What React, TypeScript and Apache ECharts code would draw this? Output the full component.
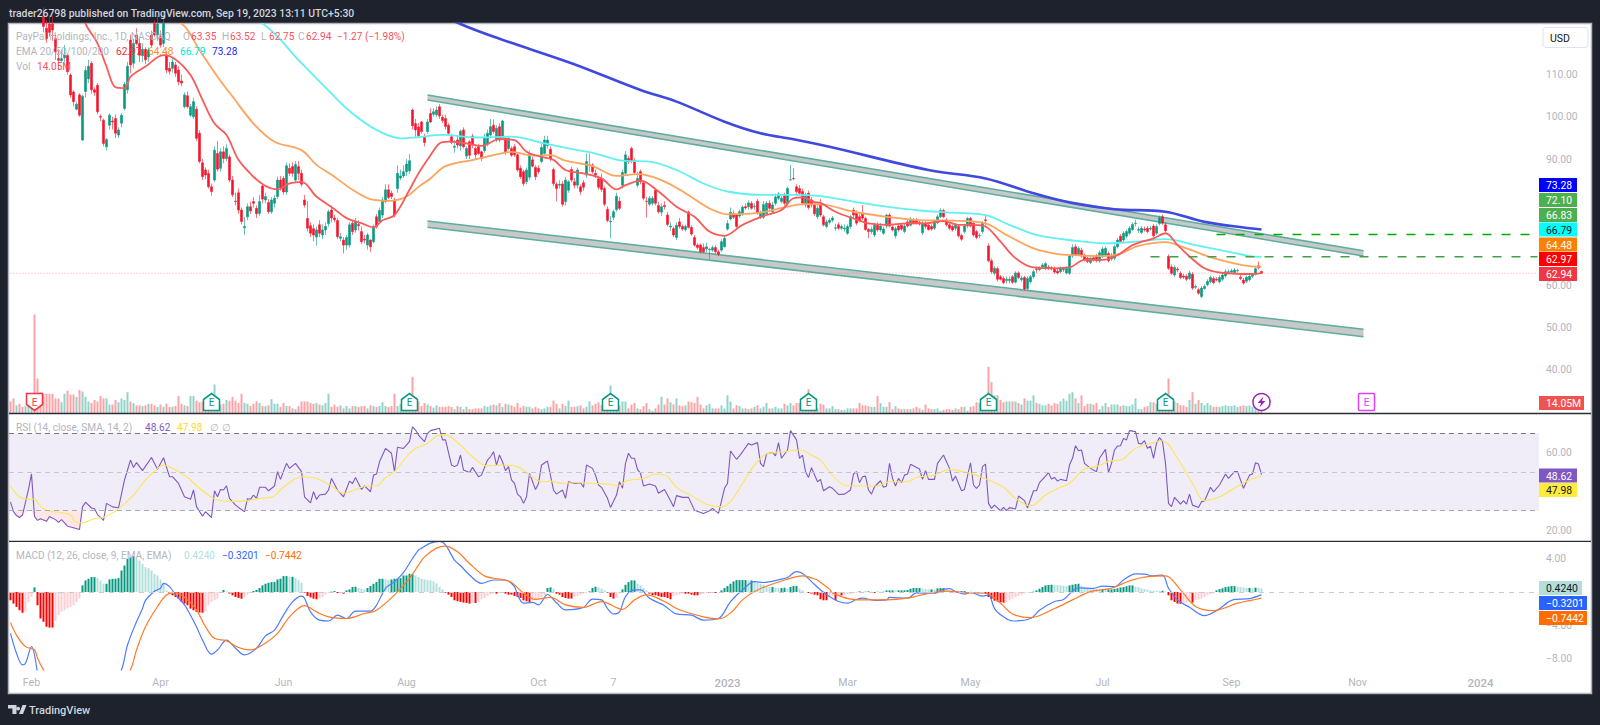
import React, { useEffect, useRef } from "react";
import * as echarts from "echarts";

const candlesA = [
[176,170,168,178],[170,166,164,172],[166,172,165,174],[172,169,167,174],[169,164,162,171],[164,168,163,170],[168,171,166,173],[171,174,170,176],[140,132,129,143],[132,128,125,134],
[128,124,123,130],[124,121.4,120,126],[121,118.5,117.5,123],[122,120,119,124],[122,120.6,118,124],[118.5,115.4,113.5,119.5],[113.8,113.4,111,116],[113.3,113.8,113.1,115.8],[114,114.6,113,117],[114.6,110.7,110,115],
[109.9,105.2,104.5,110.3],[105.9,103.6,102.5,106.3],[101.8,103,101.5,103.6],[105.2,100.4,100,105.6],[94.5,104.9,94.3,105.2],[106,111,104.6,112],[109,112,108,113.5],[112.7,106.4,105.5,113.2],[106.4,105.8,105,107],[107.5,101.2,100.6,108],
[100.1,99.9,99,100.6],[99.2,93.7,93,99.6],[92.9,94.6,92,95],[98,100.4,97,100.8],[99,98.8,97,100],[99.6,96.1,95,100.6],[95.7,96.9,95,97.5],[98.5,100.4,97.5,100.9],[102,107.7,101.5,108.3],[106.4,112,105.5,113],
[118.2,112.3,110.3,119.5],[112.7,117.4,111.5,118.5],[119.4,117.4,117,121],[117.4,114.6,113,118.5],[114.5,116,113,117.4],[116,113.5,112.5,116.5],[114.2,115.8,113,116.5],[119.4,117,116.4,120.4],[122.1,119.4,119,123],[119.4,122,118,124],
[119,117,116.4,120.5],[117.4,122.2,116.5,125],[114.6,111.1,110.3,115.5],[111.5,110.8,110,113],[111.5,113,110.5,114],[112.3,110.3,109.5,113],[111.1,108.3,107.5,112],[108.5,108,107.2,110],[102.4,105.2,102,105.8],[105,102.4,102,106],
[100.4,102.4,100,103],[100,103.6,99.5,104.5],[101.8,94.9,94.3,102.5],[96.1,89.4,89,96.8],[89.1,85.8,85,90],[87.4,86.2,85.2,88],[86.6,83.4,83,87.5],[83.4,82.3,81.3,84.2],[85,92.1,84.5,93],[91.3,87.6,87,94.3],
[87.8,91.7,87,92.5],[91.7,90.1,89,93],[90.1,92.5,89.5,93.5],[90.5,85,84.5,91],[85,81.5,81,86],[80,79.9,79,82],[82,77.9,77,83],[77.9,75.2,74.5,78.5],[73.7,74,72,76.3],[76.3,78.7,75.5,79.5],
[78.7,77.7,77,79.8],[79.9,79.5,78.5,81],[78.3,77,76,79],[77.1,79.9,76.5,81.5],[83.6,80.5,79.5,84],[80.3,81.1,79.5,82],[79.7,77.5,77,80.5],[77.5,80.3,77,81],[79.5,80.7,78.5,81.5],[81.1,85,80.5,85.8],
[85,83.2,82.5,86],[85.4,82.2,81.5,86],[82.2,88.4,81.5,89.2],[87.8,86.6,86,89],[88.2,86.6,85.8,89.2],[85,88.7,84.5,89.5],[88.2,86.6,85,89.5],[86.6,84,83.5,87.5],[80.3,79.1,78.5,81.5],[75.9,73.6,72.8,80],
[74.2,72.4,71.5,75],[73.5,72,70.5,74.5],[71.5,73.2,69.5,74],[74.4,72.4,71.5,75.5],[72,73.2,71,74.5],[73.2,74,72,75],[74.7,77.5,74,78],[77.9,76,75,79],[76,75.6,75,76.8],[75.4,71.6,71,76],
[71.2,71.6,70.5,72.5],[70.8,69.6,67.6,71.5],[69.6,71.4,68.5,72],[69.6,74.4,69,75],[74.8,72.8,72,75.5],[73.2,75.2,72.5,76],[74.5,74.2,73,75.5],[72.8,70.4,69.8,74],[71,70.8,70,72],[69.6,72,68.5,72.5],
[70.8,69.2,68,71],[70.4,74,70,74.5],[76.3,74,73.5,77],[75.2,77.8,74.8,78.5],[76.7,80.3,76,81],[79.9,82.7,79.5,84],[82.7,80.9,80.5,84],[81.9,81.1,80.5,82.5],[80.3,76.7,76.2,80.8],[83,86.6,82,88.5],
[85.5,86,85,87.5],[86,87,85.5,88.5],[87,88.8,86,90],[87.2,89.6,86.5,91.2],
];
const candlesB = [
[101.6,97.9,97,102],[98.4,96.9,95.3,99.5],[97.6,95.5,95,98.5],[98.8,96.5,96,99],[95.3,93.9,93,96],[96.5,98.8,96,99.5],[100.8,98.8,98.5,102],[100.6,101.2,100,102],[100.5,101.6,100,102.5],[102.4,100.2,99.5,103],
[99.9,99.1,98.5,100.5],[99.6,97.7,97,100.5],[98,96.1,95.5,98.5],[95.3,93.9,93.5,96],[92.8,93,91.5,94.5],[94.5,93.3,92.5,95.5],[93.1,96.6,92,97],[96.9,92.9,92.5,97.5],[90.7,92.5,90,93],[94.1,90.9,90,94.5],
[95.4,93.3,92.5,96],[92.5,91,90,93],[92.9,91.3,91,93.5],[91.7,90.1,89.5,92],[92,95.1,91.5,96],[93.5,96.1,93,97],[95.7,97.65,95,99.5],[98,96.5,96,99.4],[94.5,97.3,94,98],[97.65,94.5,94,98.5],
[94.9,99,94.5,99.3],[94.9,91.7,91,95.5],[92.5,94.9,92,95.5],[92.5,90.9,90.5,93],[92.9,91,90.5,93.5],[91,87.4,87,91.5],[87.8,85.8,85.3,88.5],[87,84.2,83.6,87.5],[84.6,87.4,84,88],[85.7,91.3,85,92],
[89.8,88.3,88,90.5],[88,85.8,85,88.5],[87.8,87,86.5,88.5],[89.4,92.7,89,93.5],[91.3,94.5,91,95.5],[93.2,94.5,92.5,95.5],[92.3,90,89.5,93],[87.5,84.2,83.5,88],[84,83,79.9,84.5],[83.8,84,83,85],
[84.1,79.3,78.7,84.8],[79.9,85,79,85.8],[82.6,84.6,82,85],[87.5,85,84.5,88.2],[84.6,83.8,83,85.5],[83.8,87.4,83,88],[83.4,82.3,81.5,84],[84.4,83.3,82.5,85],[86.2,89.4,85.5,91.3],[88.5,88.6,87,91.3],
[88.6,87,86.5,89],[86.6,86.2,85.5,87.5],[85.3,83.3,82.8,86],[85.3,82.8,82.2,86.5],[83,79.3,78.8,83.5],[78.1,75.4,75,78.8],[75.1,75.2,71.2,76.5],[76.2,77.5,75.5,78],[78,81.2,77.5,82],[80,78.3,77.9,81],
[83.8,86.8,83,87.5],[86.6,91,86,91.9],[90.1,89.4,88.8,90.7],[92.5,89.4,89,92.9],[89.6,86.8,86.3,90.2],[83.8,85.4,83.2,87],[87,84.6,84,87.5],[84.4,80.7,80.2,84.8],[80,79.9,76.1,81],[79.3,80.7,78.8,81.2],
[79.5,80.7,79,81.2],[82.6,79.5,79,83],[79,77.5,77,79.8],[77.4,78.7,76.5,79.5],[79,78.7,78,80],[76.7,74.5,74,77.5],[73.9,74.1,73,75],[73.5,72,71.5,74],[71.4,74.3,70.8,75],[75.1,74,73.5,76],
[74,73.4,73,74.5],[73.3,74,72.8,74.5],[77.4,73.8,73.5,77.8],[73.8,72.2,71.8,74.3],[71.4,69.6,69.2,72],[69.6,69,68.6,70],[69.6,68,67.8,70],[69,68,67.8,70],[68.7,69.2,68,70.2],[68.5,68.6,66.2,69],
[68.4,69,68,69.5],[69,68,67.5,69.5],[68,67.4,67,68.5],[68.4,70.4,68,71],[69.2,71.2,69,72],[73.4,74.7,73,75.5],[75.8,77.4,75.4,78.5],[77,76.2,75.8,77.8],[76.7,74,73.5,77],[76.5,77.5,76,78],
[77,78.6,76.5,79],[78.7,78.4,78,79.5],[78.7,79.6,78,80.2],[79.5,78.3,78,80],[78.7,78.8,78,79.5],[80,77.2,76.8,80.5],[76.2,77.1,75.8,77.8],[76.2,79.2,75.8,80],[77,79.5,76.5,80],[79.5,78.3,78,80.2],
[77.5,79.1,77,79.8],[79.5,81,79,81.8],[80.7,81.7,80.3,82.2],[79.9,80.7,79.5,81.3],[81.5,79.5,79,82],[79.5,83,79,83.5],[85,85.1,85,88.6],[85.4,85.3,85,87.8],[83.4,82.3,81.5,84],[83,81.9,81.5,83.8],
[82.3,79.5,79,83],[79.1,81.5,78.5,82],[81.9,78.5,78,82.5],[80.3,79.1,78.5,81],[79.1,77,76.5,79.5],[76.3,78.3,75.8,79],
];
const candlesC = [
[79.1,76.7,76.3,80.5],[76.3,74.4,74,76.8],[74,75.1,73.6,75.6],[75,75.5,74.5,76],[75.5,76,75,76.5],[73.6,73.7,73,74.7],[74.4,73.6,73.2,75],[73.6,74,73.2,74.5],[73.4,73.6,72.8,74.5],[72.4,74,72,74.5],
[74,76.3,73.5,76.8],[77.9,76.7,76,78.5],[77.1,74.8,74.3,77.8],[76.3,75.5,75,77],[77.1,76,75.5,79.1],[75.9,73.3,73,76.3],[73.3,72.8,71.2,73.7],[72.8,73.3,72.2,74],[72,74.3,71.5,74.8],[74.3,73.2,72.8,75],
[73.2,74.1,72.8,74.8],[72.4,73.4,72,74],[74.1,76.7,73.6,77],[76.7,74.1,73.8,77.2],[73.9,73.2,72.8,74.3],[71.8,73.5,71.2,74],[74.1,73.2,72.8,74.8],[74.3,73.4,73,74.8],[72.8,74.1,72.4,74.6],[75.1,74.1,73.8,75.6],
[74.3,75.7,74,76.2],[75.5,74.9,74.5,76],[75.5,74.9,74.5,76],[75,74.6,74.2,75.5],[72.5,74.8,72,75.3],[74.8,74,73.5,75.2],[74.3,73.3,73,74.8],[74,73.4,73,74.5],[73.6,75.2,73.2,75.6],[74.9,76.3,74.5,76.8],
[76.3,77.8,76,78.3],[77.8,76.3,76,78.2],[75.5,74.4,74,76],[74.4,73.6,73.2,74.8],[74,73.2,72.8,74.5],[73.6,74.3,73,74.8],[74,71.8,71.4,74.5],[71.9,71,70.6,72.3],[72.8,74.1,72.3,74.6],[74.1,75.9,73.6,76.3],
[75.9,74.1,73.8,76.3],[74.8,72,71.6,75.2],[72.8,71.4,71,73.2],[71.8,71.9,71.2,72.4],[72.8,74.9,72.3,75.3],[75.6,75.4,74.3,76.5],[69.4,65.9,65.5,70],[65.9,63.3,62.8,66.4],[62.9,64.1,62.4,64.6],[64,61.5,61,64.5],
[62.1,61.5,61.2,62.5],[61.7,60.7,60.3,62.2],[61.2,61.5,60.5,62.2],[61.2,61.5,60.5,62.2],[62.1,60.8,60.4,62.5],[60.8,63,60.5,63.4],[63,61.9,61.5,63.4],[61.4,61.8,60.9,62.3],[61.9,59.2,58.8,62.3],[59.3,61.7,58.8,62.2],
[60.9,62.1,60.5,62.5],[62.1,63.3,61.6,63.8],[64,63.8,63,64.5],[63.8,64.2,63.4,64.6],[64.4,64.9,64,65.3],[64.1,65.2,63.7,65.7],[64.4,64.1,63.7,64.9],[64.2,64,63.6,64.6],[64.1,63.2,62.8,64.5],[63.4,63,62.6,64],
[63.3,64.1,62.9,64.6],[63.7,63.8,63.2,64.4],[63,64.1,62.6,64.6],[62.9,67,62.5,67.5],[67,69,66.6,69.8],[69.2,67.3,67,69.8],[67.3,68.8,67,69.3],[68.4,67,66.6,69],[67.2,66.1,65.7,67.6],[66.5,65.7,65.3,66.9],
[65.5,66.5,65.1,67],[66.6,66.1,65.7,67],[67,65.9,65.5,67.5],[65.8,67.8,65.4,68.3],[66.9,68.7,66.5,69.2],[67.2,68.8,66.8,69.3],[67.6,65.9,65.5,68.1],[66.3,67.2,65.9,67.7],[66.5,69.2,66,69.7],[69.2,70.8,68.8,71.3],
[71.7,70.4,70,72.2],[70.8,72.4,70.3,72.9],[71.7,72.8,71.2,73.3],[72.4,73.6,72,74.1],[73.3,74.5,72.9,75],[74.7,74.8,74,75.6],[73.1,73.3,72.5,74],[72.6,73.6,72.2,74.1],[73.4,73.2,72.8,74],[73.6,72.8,72.4,74.1],
[73.4,73.6,73,74.2],[74.1,71.8,71.4,74.6],[72.4,74,72,74.5],[74.7,76.1,74.3,76.6],[76.3,74.8,74.4,76.8],[74.4,73,72.6,74.9],[66.9,64.1,63.7,67.4],[64.4,62.9,62.5,65],[62.5,64.3,62.1,64.8],[63.9,63.7,63.2,64.4],
[62.9,61.9,61.5,63.4],[62.3,62,61.6,62.8],[62.2,61.5,61.1,62.7],[61.7,63,61.3,63.5],[62.7,59.4,59,63.2],[59.6,59.8,59.2,60.3],[59,58.2,57.8,59.5],[57.4,59.4,57,59.9],[59.3,59.8,59,60.3],[60.2,61,59.8,61.5],
[60.9,61.9,60.5,62.4],[61.7,60.7,60.3,62.2],[61.5,61.3,61,62],[60.9,61.9,60.5,62.4],[61.5,62.5,61.1,63],[62.3,63.3,61.9,63.8],[63.1,63.3,62.7,63.8],[63.2,63.5,62.8,64],[63.1,63.7,62.7,64.2],[63.5,63.6,63.1,64],
[62,61.7,61.3,62.5],[61.3,60.6,60.2,61.8],[61,62,60.6,62.4],[61.4,62.2,61,62.6],[62.2,62.5,61.8,63],[62.7,64,62.4,64.5],[64.7,64.21,63.8,65.7],[63.35,62.94,62.75,63.52],
];

const ema20 = [[0,178],[8,170],[14,148],[20,132],[25,122.1],[29,117.4],[32,111.9],[35,107],[38,106.8],[40,109.5],[45,111.9],[51,114.6],[55,113.6],[60,109.9],[64,104],[68,98.4],[72,95.7],[76,89.8],[81,85.8],[85,83.6],[89,82.8],[93,84.2],[97,84.6],[102,81.1],[108,78.1],[112,76],[117,74.8],[121,73.8],[124,75.5],[128,76.7],[133,82.7],[136,86.6],[140,90.9],[143,93.7],[146,94.1],[152,93.7],[157,93.1],[163,94.7],[168,94.5],[172,91.7],[177,90.5],[181,89.8],[185,87.4],[191,86.6],[197,85.4],[202,82.8],[205,83.8],[210,84.9],[216,82.3],[222,78.7],[228,76.3],[233,72.8],[238,71.8],[244,74.4],[251,76.5],[257,77.9],[261,80.7],[264,80.9],[268,79.8],[270,79.6],[275,77.5],[281,75.9],[286,74.75],[292,74.4],[299,74.75],[305,74.75],[311,75.3],[316,74.4],[321,74.4],[325,74],[330,70.4],[335,66.5],[341,64.3],[348,64.1],[353,64.3],[358,66.1],[364,66.1],[369,67.2],[374,69.6],[381,71.2],[385,72.4],[389,69.6],[393,66.9],[398,64.1],[403,63.1],[413,62.75],[417,62.97]];
const ema50 = [[0,175],[15,158],[25,140],[35,130],[57,122.1],[63,115.8],[69,109.5],[74,104.8],[81,98.4],[88,94.1],[97,92.1],[102,88.6],[108,85.8],[114,82.7],[121,80.3],[127,80.1],[132,81.1],[136,83.4],[140,85.4],[145,88.3],[155,89.9],[161,90.9],[167,91.7],[174,90.8],[180,90.9],[185,89.6],[194,88.3],[202,86],[209,86.4],[217,85],[225,81.9],[233,78.3],[239,76.9],[250,77.3],[259,78.7],[264,79.3],[270,79.25],[281,77.5],[292,76.3],[303,75.5],[314,75.4],[325,74.75],[332,72],[341,68.8],[348,67.6],[354,67.2],[364,67],[370,67.6],[376,69.4],[385,70.3],[392,68.8],[401,66.5],[413,64.6],[417,64.48]];
const ema100 = [[0,178],[20,165],[40,145],[60,130],[84,122.1],[97,112.7],[108,104.8],[114,100.8],[122,96.9],[130,94.9],[135,95.1],[144,95.7],[155,95.1],[167,95.3],[178,93.7],[189,92.1],[195,91.3],[204,89.6],[213,89.4],[222,87.4],[231,84.2],[239,82.3],[250,81.5],[261,81.5],[270,81.2],[281,79.9],[292,78.7],[303,77.8],[314,77.3],[325,76.7],[333,74.4],[342,72],[353,70.8],[365,70],[375,70.4],[385,71],[395,69.6],[413,67],[417,66.79]];
const ema200 = [[0,175],[60,155],[110,135],[150,122],[163,118.5],[187,112.7],[210,106.35],[222,103.6],[238,98.85],[250,96.1],[261,94.7],[273,92.9],[306,87.4],[325,85.4],[341,81.9],[353,79.7],[368,78.1],[385,77.5],[398,75.1],[413,73.6],[417,73.28]];

const volumes = [15,19,10,12,8,9,15,22,128,45,27,25,25,25,25,19,19,14,25,29,24,24,21,30,28,21,15,13,17,15,22,19,19,11,11,17,14,19,17,27,15,13,10,10,9,10,12,12,10,8,11,8,12,8,8,9,22,12,10,9,22,22,16,14,15,14,13,14,37,15,11,12,17,16,21,16,13,25,13,12,9,12,15,13,9,9,10,18,12,12,8,13,9,9,6,5,9,15,15,15,13,12,13,11,10,13,25,8,11,8,10,6,9,6,9,9,8,9,9,6,10,9,8,9,14,9,8,9,25,9,12,12,13,15,47,20,15,9,13,11,9,7,10,8,8,8,9,8,5,9,8,5,8,5,5,6,6,6,9,8,10,11,10,13,8,12,11,10,8,13,7,9,8,8,6,8,6,5,6,8,8,16,12,6,12,9,16,8,8,9,10,6,8,15,10,12,14,10,8,13,36,15,12,10,15,15,6,11,13,6,5,9,13,5,3,6,11,21,11,19,14,11,19,10,9,10,15,14,13,21,11,6,10,12,6,6,6,10,6,23,15,6,10,9,6,6,5,6,8,10,6,8,13,6,6,8,6,6,12,10,13,10,13,13,12,14,31,10,10,6,12,11,6,6,9,5,5,4,4,6,6,6,6,13,10,10,9,8,8,22,13,8,8,14,5,9,6,5,5,5,5,6,8,6,4,11,6,5,5,6,3,4,5,5,4,6,5,8,8,3,8,9,14,13,13,14,60,40,23,23,17,14,15,15,15,15,13,11,19,16,16,23,13,12,10,10,12,10,13,12,15,19,16,25,27,19,13,23,9,12,12,11,13,5,9,13,8,11,11,11,9,10,9,9,11,19,5,5,8,9,14,14,12,14,14,14,45,21,15,13,10,10,8,17,27,12,17,13,10,13,10,8,8,8,9,10,9,9,10,8,9,10,9,10,8,11,10,14.05];

const rsi = [[0,34.6],[1,29.5],[2,27.5],[3,26.5],[4,27.8],[6,41],[7,49],[8,27],[9,25],[10,25.9],[12,24.5],[13,27],[15,25.4],[16,24],[17,25.4],[19,22],[21,21.2],[23,20.3],[24,32],[25,34.4],[27,31.4],[28,31],[29,28],[31,25],[32,33.8],[34,32],[36,31.5],[38,45.9],[40,56.2],[41,52.3],[42,54.9],[43,52.8],[44,50.7],[47,57.5],[49,51.4],[51,57.4],[53,47.6],[54,47.6],[56,44.1],[58,37.2],[60,35.9],[61,40.7],[62,32.1],[64,27.2],[65,29.5],[67,26.5],[68,40.3],[69,37.2],[70,41],[71,40.7],[72,42.9],[73,36.4],[75,32.9],[76,31.7],[78,29.5],[79,36.2],[80,35.9],[81,38.1],[82,36.4],[83,42.1],[85,42.1],[86,40.3],[88,42.8],[89,50.2],[90,46.2],[92,54.5],[93,51.9],[95,54.5],[97,50.2],[98,37.2],[100,34.1],[101,39.8],[102,35.9],[103,38.1],[105,38.6],[106,40.7],[107,46.7],[109,40.7],[111,37.2],[113,45.3],[114,44.1],[115,47.2],[117,41],[118,42.8],[120,39.8],[121,48.4],[122,49],[123,55.3],[125,62.2],[127,59.7],[128,50.2],[129,62.8],[131,62.2],[133,65.7],[134,73.4],[135,71.7],[136,69.1],[138,65.7],[139,70],[140,71.4],[143,72.6],[144,66.6],[145,66.6],[147,53.6],[148,52.8],[149,53.6],[150,58.8],[151,51],[153,49.7],[154,52.4],[156,47.6],[157,48.4],[159,56.2],[160,57.9],[161,60.5],[162,53.6],[163,58.8],[164,55.3],[165,50.7],[166,52.8],[167,45.9],[168,44.1],[169,38.6],[170,37.2],[171,33.8],[172,37.2],[173,49.3],[175,41],[176,44.1],[177,53.6],[179,55.7],[181,40.7],[182,38.6],[184,40.7],[185,36.4],[186,45],[188,44.1],[190,44.5],[191,42.1],[192,53.6],[194,51.9],[195,48.4],[196,43.3],[197,42.1],[199,36.4],[200,31.7],[202,38.1],[203,45],[204,41.6],[205,54.5],[206,59.7],[207,57.1],[208,57.1],[209,51.4],[210,49.3],[211,42.8],[213,43.8],[215,42.8],[216,39],[218,41],[220,35.2],[221,32.1],[222,37.8],[224,36.9],[226,36.9],[228,30.3],[231,28.6],[233,30],[234,31.2],[236,28.6],[238,41.6],[239,44.1],[240,60.9],[242,56.6],[243,58.3],[246,64.8],[247,64],[249,65.2],[250,54.5],[251,52.8],[252,59.3],[254,60.2],[255,58.3],[256,65.2],[257,57.1],[259,61.4],[260,71.4],[262,66.6],[263,57.1],[264,58.8],[265,50.2],[266,47.2],[267,52.2],[269,45],[270,46.2],[271,40.3],[273,42.4],[274,41.6],[276,38.4],[278,38.6],[280,40.7],[281,49],[282,50.2],[283,44.5],[284,47.6],[285,47.9],[286,40.7],[287,38.6],[288,42.4],[290,45.5],[291,42.1],[292,42.8],[293,54.5],[294,46.7],[295,42.8],[296,46.7],[297,44.5],[298,48.4],[299,49],[300,54],[303,51.6],[304,46.2],[305,50.7],[306,46.2],[308,46.2],[309,54.5],[311,58.8],[313,51.9],[314,45.3],[315,47.9],[317,40.3],[318,41],[320,54.8],[321,43.3],[322,41.6],[323,43.3],[324,52.8],[325,54.1],[326,33.8],[327,31.2],[328,32.9],[330,30],[331,31.7],[332,30],[333,31.6],[335,30.9],[336,37.6],[338,35.2],[339,31.4],[341,40.3],[342,40.3],[343,44.5],[345,47.9],[346,49.7],[347,46.4],[348,47.2],[349,45.3],[350,46.2],[352,45.5],[353,53.6],[354,57.1],[355,63.6],[356,61],[357,61.4],[358,54.5],[360,51.9],[362,50.2],[363,57.1],[365,61.7],[366,49.7],[367,54.5],[368,61.4],[369,63.4],[370,63.6],[371,67.4],[372,66.6],[373,71.4],[375,70.9],[376,64.8],[377,64.5],[378,66.2],[379,62.2],[380,63.4],[381,57.1],[382,64.8],[383,67.8],[384,65.7],[385,54.5],[386,33.8],[387,32.1],[388,36.9],[390,33.4],[391,35.2],[392,33.4],[393,38.6],[394,32.9],[396,31.7],[397,34.7],[398,35],[400,42.1],[401,39.8],[403,43.3],[405,49],[406,46.7],[408,50.2],[409,50.2],[411,41.6],[413,48.4],[414,49],[415,54.8],[416,54.1],[417,48.62]];
const rsiSma = [[0,42.8],[3,37.2],[6,35.9],[8,35.9],[10,32.1],[13,29.8],[17,29.1],[20,27.8],[22,23.8],[24,23.8],[28,26],[31,26.6],[35,29.8],[41,38.1],[45,45.9],[49,51.9],[51,53.6],[54,51.9],[59,47.2],[63,41.6],[67,36.9],[69,35.5],[74,34.7],[79,35.2],[83,36.4],[87,36.9],[91,42.1],[97,47.6],[102,46.7],[107,42.8],[111,39],[114,40.3],[119,42.8],[122,42.8],[125,47.2],[128,50.2],[132,57.9],[135,62.2],[139,64.8],[143,69.1],[145,69.1],[150,64],[154,57.9],[159,53.1],[164,53.6],[169,52.8],[173,48.4],[177,45],[180,45.3],[184,44.1],[189,44.6],[194,44.1],[199,43.8],[203,42.8],[205,45.3],[211,46.7],[215,49],[219,47.6],[222,42.1],[228,36.9],[232,33.4],[237,32.1],[240,34.7],[244,44.1],[248,53.6],[252,59.3],[258,60.5],[263,61.4],[268,57.9],[270,56.2],[273,50.2],[278,43.3],[284,42.8],[289,42.8],[293,45],[299,45],[302,47.2],[308,48.4],[313,51.4],[319,49.7],[324,47.2],[331,42.1],[335,36.4],[340,32.4],[345,38.1],[350,42.1],[353,44.1],[358,51.6],[362,52.8],[367,55.9],[370,56.2],[375,62.2],[381,65.2],[384,66.2],[389,57.1],[394,44.1],[398,35.2],[403,37.2],[408,41.6],[413,45.9],[417,47.98]];

const macdLine = [[0,-5],[2,-7.4],[4,-8.8],[5,-8.6],[7,-6.6],[9,-9.8],[10,-13],[15,-15.5],[22,-16.5],[28,-15],[33,-12],[37,-9.4],[39,-6.4],[42,-3.6],[44,-2],[45,-1],[48,0.1],[50,0.45],[51,1.05],[53,0.65],[55,-0.35],[58,-1.55],[60,-2.8],[62,-4.2],[64,-5.8],[67,-7.5],[69,-7],[72,-5.8],[75,-6.8],[78,-7.6],[82,-6.8],[85,-5.3],[88,-4.6],[91,-2.8],[94,-1.2],[97,-0.5],[98,-0.75],[100,-2.4],[103,-3.4],[106,-3.5],[109,-2.8],[112,-3.2],[115,-2.3],[120,-2.3],[122,-1.6],[125,0.45],[128,1.25],[131,2.35],[134,4.05],[136,5.05],[137,5.3],[140,5.9],[143,6.1],[145,5.7],[148,3.85],[150,3.2],[153,2.05],[157,1.05],[161,1.45],[165,1.45],[168,0.65],[169,-0.35],[171,-1.35],[174,-1.25],[176,-1.55],[179,-0.3],[182,-1.3],[185,-2.15],[191,-1.85],[194,-0.85],[197,-0.95],[199,-2],[201,-2.65],[203,-2.4],[205,-0.55],[208,0.25],[210,0.25],[213,-0.75],[218,-1.65],[222,-2.65],[227,-2.8],[231,-3.4],[236,-3.2],[240,-1.15],[244,0.25],[248,1.25],[251,1.15],[257,1.55],[259,1.75],[262,2.45],[264,2.25],[267,1.25],[270,0.25],[273,-0.55],[276,-1.15],[279,-1.35],[282,-0.9],[284,-0.75],[288,-1],[292,-0.95],[293,-0.65],[299,-0.75],[302,-0.1],[308,-0.15],[311,0.35],[313,0.4],[315,0.05],[318,-0.25],[320,-0.05],[324,-0.5],[326,-0.35],[328,-2],[331,-3],[334,-3.5],[340,-3.2],[343,-2.2],[348,-1.15],[351,-0.9],[356,0.5],[361,0.45],[364,0.7],[368,0.65],[371,1.45],[375,2.2],[378,2.15],[381,1.95],[384,2.05],[386,0.45],[389,-0.95],[393,-1.85],[398,-2.85],[402,-2.25],[408,-0.9],[413,-0.8],[417,-0.3201]];
const macdSignal = [[0,-3.7],[2,-5.2],[5,-6.6],[8,-7],[9,-8],[11,-9.4],[15,-11.5],[22,-13],[30,-13.5],[36,-11.5],[40,-9.4],[42,-7],[45,-4.2],[49,-1.75],[52,-0.35],[55,-0.1],[59,-0.95],[62,-2.15],[65,-4.2],[68,-5.6],[72,-5.9],[76,-6.7],[80,-7],[84,-6.4],[89,-5],[93,-3],[98,-1.65],[102,-2.4],[106,-3],[112,-3.2],[118,-2.6],[122,-2.2],[128,-0.35],[133,1.65],[136,3.25],[138,4.25],[142,5.3],[145,5.55],[149,4.85],[153,3.45],[158,1.95],[163,1.55],[167,1.15],[171,-0.15],[175,-0.9],[180,-0.65],[185,-1.55],[191,-1.85],[197,-1.15],[204,-2.1],[208,-0.95],[212,-0.35],[218,-1.15],[223,-2.15],[231,-3],[236,-3.25],[240,-2.55],[244,-0.95],[249,0.25],[259,1.55],[264,1.95],[269,1.45],[270,1.15],[273,0.35],[274,-0.1],[280,-0.85],[285,-0.95],[292,-0.95],[299,-0.75],[305,-0.25],[312,0.1],[319,-0.1],[325,-0.15],[330,-1.35],[334,-2.65],[340,-3.1],[348,-2],[354,-0.95],[360,0.05],[367,0.45],[373,1.35],[379,1.85],[385,1.95],[390,0.25],[395,-1.75],[401,-2.25],[409,-1.35],[413,-1.05],[417,-0.7442]];
const macdHist = [-1,-1.4,-1.8,-2.2,-2.5,-2.4,-1.2,-0.6,0.56,-1.6,-3.2,-3.6,-4.2,-4.3,-4.3,-3.5,-2.8,-2.4,-2.2,-2,-1.8,-1.6,-1.2,-0.8,0.8,1.4,1.6,1.8,1.8,1.68,1.4,1,1,1.52,1.6,1.6,1.68,2.6,3.2,4,4.2,4.32,4,3.8,3.4,3,2.88,2.6,2.2,2,1.52,1,0.2,-0.2,-0.4,-0.6,-0.8,-1.2,-1.4,-1.6,-2,-2.2,-2.4,-2.48,-2.5,-2.4,-1.6,-1.2,-1,-0.8,-0.12,0.24,0.08,-0.2,-0.4,-0.6,-0.72,-0.8,-0.6,-0.32,-0.12,0.12,0.24,0.48,0.8,1,1.12,1.2,1.2,1.52,1.6,1.92,1.92,1.84,1.84,1.68,1.44,1.12,-0.08,-0.48,-0.64,-0.8,-0.88,-0.72,-0.6,-0.32,-0.08,0.04,0.12,-0.12,-0.12,-0.2,0.2,0.32,0.6,0.64,0.48,0.4,0.32,0.48,0.72,1,1.2,1.6,1.6,1.52,1.44,1.52,1.6,1.6,1.68,2,2,2.2,2.2,2,1.8,1.6,1.52,1.44,1.4,1.28,1.04,0.6,0.32,-0.08,-0.32,-0.6,-1,-1.12,-1.2,-1.28,-1.32,-1.4,-1.32,-1.32,-1.2,-0.88,-0.72,-0.48,-0.32,-0.2,-0.2,-0.08,-0.08,-0.2,-0.32,-0.32,-0.48,-0.6,-0.72,-1,-1.12,-1.2,-1,-0.88,-0.8,-0.6,-0.4,0.48,0.56,0.4,-0.2,-0.32,-0.6,-0.72,-0.8,-0.8,-0.6,-0.48,-0.32,-0.2,-0.12,0.08,0.48,0.64,0.56,0.4,0.2,-0.08,-0.6,-0.8,-0.72,-0.2,0.32,0.88,1.2,1.4,1.4,1,0.8,0.48,0.2,-0.2,-0.4,-0.4,-0.48,-0.6,-0.6,-0.72,-0.88,-0.48,-0.4,-0.32,-0.2,-0.2,-0.2,-0.32,-0.4,-0.4,-0.32,-0.2,-0.12,-0.12,-0.12,-0.12,-0.04,0.2,0.48,0.72,1,1.28,1.44,1.44,1.44,1.44,1.4,1.4,1.2,1.12,1,0.88,0.72,0.6,0.6,0.52,0.48,0.48,0.52,0.4,0.6,0.72,0.72,0.4,0.2,0,-0.12,-0.2,-0.32,-0.4,-0.88,-1,-1,-0.5,-0.4,-1,-0.4,-0.4,-0.32,-0.28,-0.2,-0.16,-0.12,0.08,-0.04,0.04,0.08,0.04,-0.12,0.04,0.02,0.04,0.2,0.2,0.2,0.16,0.2,0.2,0.2,0.24,0.4,0.48,0.48,0.48,0.44,0.36,0.32,0.32,0.28,0.44,0.48,0.48,0.32,0.2,0.1,0.04,0.04,0.12,0.12,-0.04,-0.08,-0.12,-0.1,-0.12,-0.12,-0.2,-0.6,-0.85,-1.05,-1.15,-1.25,-1.28,-1.2,-1,-0.8,-0.6,-0.48,-0.32,-0.15,-0.08,-0.12,0.04,0.2,0.4,0.6,0.8,0.85,0.88,0.86,0.82,0.8,0.76,0.72,0.8,0.88,0.95,1,0.76,0.6,0.5,0.45,0.4,0.36,0.32,0.32,0.3,0.32,0.32,0.38,0.45,0.55,0.6,0.7,0.8,0.8,0.65,0.6,0.45,0.35,0.28,0.2,0.16,0.14,0.12,0.15,0.05,-0.4,-1,-1.2,-1.4,-1.42,-1.4,-1.3,-1.2,-1.28,-1,-0.9,-0.8,-0.6,-0.4,-0.25,-0.1,0.2,0.35,0.45,0.6,0.65,0.72,0.72,0.65,0.6,0.55,0.5,0.5,0.46,0.52,0.5,0.424];

const priceTicks = [50,60,90,100,110];
const rsiTicks = [20,60];
const macdTicks = [-8,-4,4];
const timeTicks: [number,string][] = [[7,"Feb"],[50,"Apr"],[91,"Jun"],[132,"Aug"],[176,"Oct"],[201,"7"],[239,"2023"],[279,"Mar"],[320,"May"],[364,"Jul"],[407,"Sep"],[449,"Nov"],[490,"2024"]];
const extraPriceTicks = [40];
const earningsGreen = [67,133,200,266,326,385];
const earningsRed = [8];
const earningsFuture = [452];
const dividendIdx = [417];
const upperChannel = [139,105.17,103.98,451,68.27,67.0];
const lowerChannel = [139,75.31,73.81,451,49.64,47.89];
const levelUpper = [[402,72.1],[509,72.1]];
const levelLower = [[380,66.83],[509,66.83]];
const lastClose = 62.94;
const AXIS_COUNT = 510;

const priceTags = [["73.28",178,192,"#0000ff","#fff"],["72.10",193,207,"#4caf50","#fff"],["66.83",208,222,"#4caf50","#fff"],["66.79",222.5,236.5,"#00ffff","#131722"],["64.48",237.5,251.5,"#ff7f00","#fff"],["62.97",252,266,"#ff0000","#fff"],["62.94",267,281,"#f23645","#fff"]];
const rsiTags = [["48.62",468.5,482.5,"#7e57c2","#fff"],["47.98",483,497,"#ffeb3b","#131722"]];
const FONT = "Roboto, 'Liberation Sans', sans-serif";
const GREEN = "#089981", RED = "#f7152e";
const LEGEND_SIZE = 10.1;

const categories = Array.from({ length: AXIS_COUNT }, (_, i) => {
  const t = timeTicks.find((x) => x[0] === i);
  return t ? t[1] : "";
});

const UP_PATH = "path://M0 6L8 0L16 6L16 17L0 17Z";
const DOWN_PATH = "path://M0 0L16 0L16 11L8 17L0 11Z";
const SQ_PATH = "path://M1 0L15 0Q16 0 16 1L16 16Q16 17 15 17L1 17Q0 17 0 16L0 1Q0 0 1 0Z";
const BOLT_PATH = "path://M6 0L0 7L3.5 7L2 12L8 5L4.5 5Z";
const VOL_MARK = 14.3;

echarts.graphic.registerShape(
  "tvlogo",
  echarts.graphic.extendPath("M0 0H8.5V9H4.4V3.6H0ZM10.2 1.8a1.8 1.8 0 1 0 0.01 0ZM14.5 0H18.5L15 9H11Z", {}) as any
);

function txt(x: number, y: number, text: string, fill: string, size = LEGEND_SIZE, weight = "normal") {
  return { type: "text", x, y, z: 60, silent: true, style: { text, fill, font: `${weight} ${size}px ${FONT}`, verticalAlign: "middle" } };
}
function tag(t: any[], right = 1577, size = 10.4) {
  return [
    { type: "rect", z: 55, silent: true, shape: { x: 1539, y: t[1], width: right - 1539, height: t[2] - t[1] }, style: { fill: t[3] } },
    txt(1546, (t[1] + t[2]) / 2 + 0.5, t[0], t[4], size),
  ];
}
function channelRender(_p: any, api: any) {
  const a0 = api.coord([api.value(0), api.value(1)]);
  const b0 = api.coord([api.value(0), api.value(2)]);
  const a1 = api.coord([api.value(3), api.value(4)]);
  const b1 = api.coord([api.value(3), api.value(5)]);
  const edge = { stroke: "#5cae9d", lineWidth: 1.6 };
  return {
    type: "group",
    children: [
      { type: "polygon", shape: { points: [a0, a1, b1, b0] }, style: { fill: "#c6c8ca" } },
      { type: "line", shape: { x1: a0[0], y1: a0[1], x2: a1[0], y2: a1[1] }, style: edge },
      { type: "line", shape: { x1: b0[0], y1: b0[1], x2: b1[0], y2: b1[1] }, style: edge },
    ],
  };
}

export default function App() {
  const ref = useRef<HTMLDivElement>(null);
  useEffect(() => {
    document.body.style.margin = "0";
    const chart = echarts.init(ref.current!, null, { renderer: "svg" });
    const candles = [...candlesA, ...candlesB, ...candlesC];
    const hideX = (i: number) => ({ type: "category", gridIndex: i, data: categories, show: false });
    const line = (name: string, data: any, color: string, width: number, x: number, smooth: any = 0.35, extra: any = {}) => ({
      name, type: "line", data, xAxisIndex: x, yAxisIndex: x, showSymbol: false, symbol: "none", smooth, silent: true,
      lineStyle: { color, width }, ...extra,
    });
    const marker = (data: number[], symbol: string, color: string, label: string) => ({
      type: "scatter", xAxisIndex: 1, yAxisIndex: 1, silent: true, z: 6, symbol, symbolSize: [16, 17],
      data: data.map((i) => [i, VOL_MARK]),
      itemStyle: { color: "#ffffff", borderColor: color, borderWidth: 1.6, opacity: 1 },
      label: { show: true, position: "inside", formatter: label, color, fontSize: 10, fontFamily: FONT },
    });
    const graphic: any[] = [
      { type: "rect", z: 0, silent: true, shape: { x: 8.5, y: 23.5, width: 1583, height: 670 }, style: { fill: "#ffffff", stroke: "#b2b5be", lineWidth: 1.5 } },
      { type: "line", z: 58, silent: true, shape: { x1: 9, y1: 413.5, x2: 1591, y2: 413.5 }, style: { stroke: "#2a2e39", lineWidth: 1.3 } },
      { type: "line", z: 58, silent: true, shape: { x1: 9, y1: 541.3, x2: 1591, y2: 541.3 }, style: { stroke: "#2a2e39", lineWidth: 1.3 } },
      txt(9, 13, "trader26798 published on TradingView.com, Sep 19, 2023 13:11 UTC+5:30", "#d1d4dc", 10.4, "500"),
      { type: "tvlogo", x: 8, y: 705, z: 60, silent: true, style: { fill: "#d1d4dc" } },
      txt(29, 710, "TradingView", "#d1d4dc", 11, "500"),
      { type: "rect", z: 55, silent: true, shape: { x: 1543, y: 27.5, width: 45, height: 20, r: 3 }, style: { fill: "#fff", stroke: "#e0e3eb", lineWidth: 1 } },
      txt(1550, 38, "USD", "#131722", 10.5),
      txt(16, 36, "PayPal Holdings, Inc., 1D, NASDAQ", "#b2b5be"),
      ...[["O","63.35",183],["H","63.52",222],["L","62.75",261],["C","62.94",298]].flatMap((p: any) => {
        return [txt(p[2], 36, p[0], "#b2b5be"), txt(p[2] + 8, 36, p[1], "#f7525f")];
      }),
      txt(337, 36, "−1.27 (−1.98%)", "#f7525f"),
      txt(16, 51, "EMA 20/50/100/200", "#b2b5be"),
      txt(116, 51, "62.97", "#ff2b2b"),
      txt(148, 51, "64.48", "#ff8c1a"),
      txt(180, 51, "66.79", "#00e5e5"),
      txt(212, 51, "73.28", "#2020ff"),
      txt(16, 66, "Vol", "#b2b5be"),
      txt(37, 66, "14.05M", "#f7525f"),
      txt(16, 427, "RSI (14, close, SMA, 14, 2)", "#b2b5be"),
      txt(145, 427, "48.62", "#7e57c2"),
      txt(177, 427, "47.98", "#fdd835"),
      txt(210, 427, "∅", "#b2b5be"),
      txt(222, 427, "∅", "#b2b5be"),
      txt(16, 555, "MACD (12, 26, close, 9, EMA, EMA)", "#b2b5be"),
      txt(184, 555, "0.4240", "#b2dfdb"),
      txt(222, 555, "−0.3201", "#2962ff"),
      txt(265, 555, "−0.7442", "#ff6d00"),
      ...priceTags.flatMap((t) => tag(t)),
      ...rsiTags.flatMap((t) => tag(t)),
      ...tag(["14.05M", 396, 410, "#ef5350", "#fff"], 1584),
      ...tag(["0.4240", 581, 595, "#b2dfdb", "#131722"], 1582),
      ...tag(["−0.3201", 596, 610, "#2962ff", "#fff"], 1587),
      ...tag(["−0.7442", 611, 625, "#ff6d00", "#fff"], 1587),
    ];
    const axisLabel = (ticks: number[]) => ({
      show: true, color: "#b2b5be", fontSize: 10.3, fontFamily: FONT, margin: 7,
      customValues: ticks, formatter: (v: number) => v.toFixed(2).replace("-", "−"),
    });
    const yBase = { type: "value", position: "right", scale: true, splitLine: { show: false }, axisLine: { show: false }, axisTick: { show: false } };
    chart.setOption({
      animation: false,
      backgroundColor: "#1e222d",
      graphic,
      grid: [
        { left: 9, top: 24, width: 1530, height: 389 },
        { left: 9, top: 313, width: 1530, height: 100 },
        { left: 9, top: 414, width: 1530, height: 127 },
        { left: 9, top: 542, width: 1530, height: 128 },
      ],
      xAxis: [hideX(0), hideX(1), hideX(2), {
        type: "category", gridIndex: 3, data: categories,
        axisLine: { show: false }, axisTick: { show: false }, splitLine: { show: false },
        axisLabel: {
          show: true, interval: (_i: number, v: string) => v !== "", color: "#b2b5be", fontSize: 10.6, fontFamily: FONT, margin: 7,
          formatter: (v: string) => (/^\d{4}$/.test(v) ? `{y|${v}}` : v),
          rich: { y: { fontSize: 11.5, fontFamily: FONT, fontWeight: 500, color: "#b2b5be" } },
        },
      }],
      yAxis: [
        { ...yBase, gridIndex: 0, min: 29.8, max: 122, axisLabel: axisLabel([...extraPriceTicks, ...priceTicks]) },
        { type: "value", gridIndex: 1, min: 0, max: 130, show: false, splitLine: { show: false } },
        { ...yBase, gridIndex: 2, min: 14.35, max: 80, axisLabel: axisLabel(rsiTicks) },
        { ...yBase, gridIndex: 3, min: -9.42, max: 6.04, axisLabel: axisLabel(macdTicks) },
      ],
      series: [
        { type: "custom", xAxisIndex: 0, yAxisIndex: 0, silent: true, renderItem: channelRender, data: [upperChannel, lowerChannel], encode: { x: [0, 3], y: [1, 2, 4, 5] } },
        line("last", [[0, lastClose], [509, lastClose]], "rgba(247,82,95,0.55)", 1, 0, false, { lineStyle: { color: "rgba(247,82,95,0.55)", width: 1, type: [1, 2] } }),
        { name: "price", type: "candlestick", xAxisIndex: 0, yAxisIndex: 0, data: candles, barWidth: 2, silent: true,
          itemStyle: { color: GREEN, color0: RED, borderColor: GREEN, borderColor0: RED, borderWidth: 0.6 } },
        line("EMA 100", ema100, "#62f0f0", 1.8, 0),
        line("EMA 50", ema50, "#ffa45c", 1.8, 0),
        line("EMA 20", ema20, "#fb5a5a", 1.8, 0),
        line("EMA 200", ema200, "#3f48e0", 2.6, 0),
        line("level A", levelUpper, "#00ad00", 1.5, 0, false, { lineStyle: { color: "#00ad00", width: 1.5, type: [9, 10] } }),
        line("level B", levelLower, "#43a047", 1.5, 0, false, { lineStyle: { color: "#43a047", width: 1.5, type: [9, 10] } }),
        { name: "Vol", type: "bar", xAxisIndex: 1, yAxisIndex: 1, barWidth: 2, silent: true,
          data: volumes.map((v, i) => {
            const c = candles[i];
            return { value: v, itemStyle: { color: c && c[1] >= c[0] ? "#93d3c8" : "#f9a5a8" } };
          }) },
        marker(earningsGreen, UP_PATH, GREEN, "E"),
        marker(earningsRed, DOWN_PATH, "#f23645", "E"),
        marker(earningsFuture, SQ_PATH, "#e040fb", "E"),
        { type: "scatter", xAxisIndex: 1, yAxisIndex: 1, silent: true, z: 6, symbol: "circle", symbolSize: 17,
          data: dividendIdx.map((i) => [i, VOL_MARK]), itemStyle: { color: "#fff", borderColor: "#9c27b0", borderWidth: 1.5, opacity: 1 } },
        { type: "scatter", xAxisIndex: 1, yAxisIndex: 1, silent: true, z: 7, symbol: BOLT_PATH, symbolSize: [8, 11],
          data: dividendIdx.map((i) => [i, VOL_MARK]), itemStyle: { color: "#9c27b0", opacity: 1 } },
        line("oversold", rsi.filter((p) => p[0] <= 25).map((p) => [p[0], Math.min(p[1], 30)]), "rgba(0,0,0,0)", 0, 2, false, {
          areaStyle: { origin: 30, color: "rgba(255,82,82,0.2)" }, z: 3,
        }),
        line("RSI", rsi, "#7e57c2", 1.1, 2, false, {
          markArea: { silent: true, itemStyle: { color: "rgba(126,87,194,0.11)" }, data: [[{ yAxis: 70 }, { yAxis: 30 }]] },
          markLine: { silent: true, symbol: "none", label: { show: false },
            data: [
              { yAxis: 70, lineStyle: { color: "#787b86", type: [5, 4], width: 1 } },
              { yAxis: 50, lineStyle: { color: "#c4c6ce", type: [5, 4], width: 1 } },
              { yAxis: 30, lineStyle: { color: "#a8abb5", type: [5, 4], width: 1 } },
            ] },
        }),
        line("RSI SMA", rsiSma, "#fde55a", 1.1, 2),
        { name: "Hist", type: "bar", xAxisIndex: 3, yAxisIndex: 3, barWidth: 2, silent: true,
          data: macdHist.map((v, i) => {
            const prev = i > 0 ? macdHist[i - 1] : 0;
            const color = v >= 0 ? (v >= prev ? "#089981" : "#b2dfdb") : (v <= prev ? "#ff0000" : "#ffcdd2");
            return { value: v, itemStyle: { color } };
          }),
          markLine: { silent: true, symbol: "none", label: { show: false }, data: [{ yAxis: 0 }], lineStyle: { color: "#c9cbd2", type: [5, 5], width: 1 } } },
        line("MACD", macdLine, "#4d7dff", 1.2, 3),
        line("Signal", macdSignal, "#ff7a26", 1.2, 3),
      ],
    });
    return () => chart.dispose();
  }, []);
  return <div ref={ref} style={{ position: "absolute", left: 0, top: 0, width: 1600, height: 725 }} />;
}
